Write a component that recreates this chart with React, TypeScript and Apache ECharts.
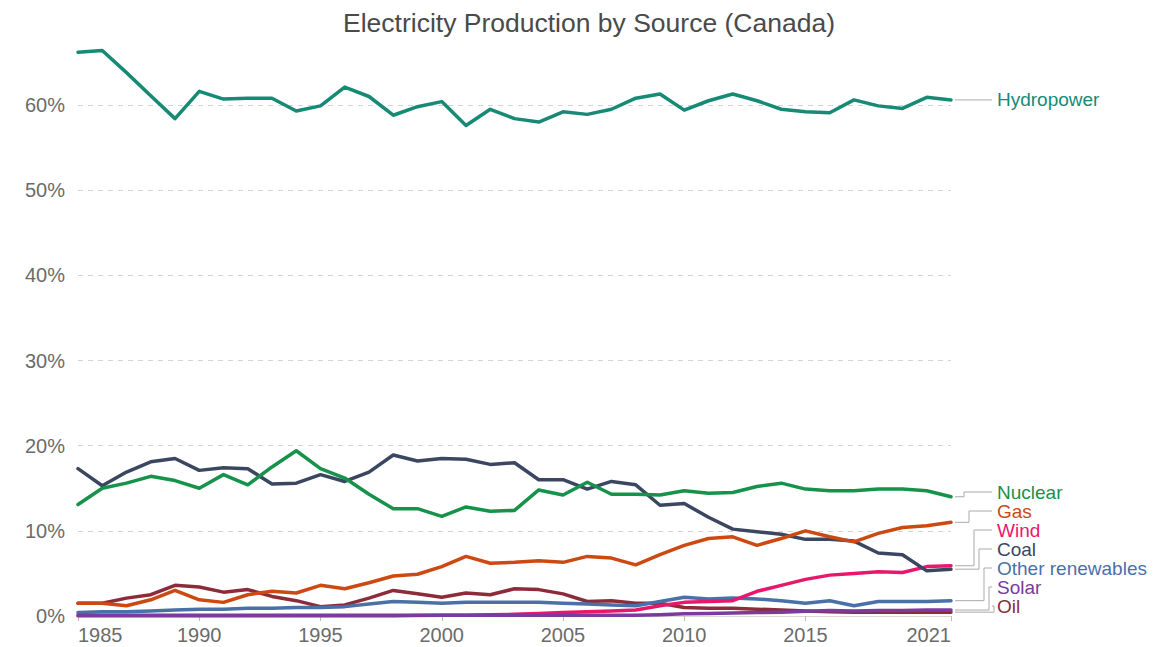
import React, { useEffect, useRef } from "react";
import * as echarts from "echarts";

const years = [
  1985, 1986, 1987, 1988, 1989, 1990, 1991, 1992, 1993, 1994, 1995, 1996, 1997,
  1998, 1999, 2000, 2001, 2002, 2003, 2004, 2005, 2006, 2007, 2008, 2009, 2010,
  2011, 2012, 2013, 2014, 2015, 2016, 2017, 2018, 2019, 2020, 2021,
];

const xTickYears = [1985, 1990, 1995, 2000, 2005, 2010, 2015, 2021];
const yTickValues = [0, 10, 20, 30, 40, 50, 60];

const hydropower = [
  66.2, 66.4, 63.8, 61.1, 58.4, 61.6, 60.7, 60.8, 60.8, 59.3, 59.9, 62.1, 61.0,
  58.8, 59.8, 60.4, 57.6, 59.5, 58.4, 58.0, 59.2, 58.9, 59.5, 60.8, 61.3, 59.4,
  60.5, 61.3, 60.5, 59.5, 59.2, 59.1, 60.6, 59.9, 59.6, 60.9, 60.6,
];
const nuclear = [
  13.1, 15.0, 15.6, 16.4, 15.9, 15.0, 16.6, 15.4, 17.5, 19.4, 17.3, 16.2, 14.3,
  12.6, 12.6, 11.7, 12.8, 12.3, 12.4, 14.8, 14.2, 15.7, 14.3, 14.3, 14.2, 14.7,
  14.4, 14.5, 15.2, 15.6, 14.9, 14.7, 14.7, 14.9, 14.9, 14.7, 14.0,
];
const gas = [
  1.5, 1.5, 1.2, 1.9, 3.0, 1.9, 1.6, 2.5, 2.9, 2.7, 3.6, 3.2, 3.9, 4.7, 4.9, 5.8,
  7.0, 6.2, 6.3, 6.5, 6.3, 7.0, 6.8, 6.0, 7.2, 8.3, 9.1, 9.3, 8.3, 9.1, 10.0, 9.3,
  8.7, 9.7, 10.4, 10.6, 11.0,
];
const wind = [
  0.0, 0.0, 0.0, 0.0, 0.0, 0.0, 0.0, 0.0, 0.0, 0.0, 0.0, 0.0, 0.0, 0.0, 0.05, 0.1,
  0.1, 0.15, 0.2, 0.3, 0.4, 0.5, 0.6, 0.7, 1.2, 1.6, 1.7, 1.8, 2.9, 3.6, 4.3, 4.8,
  5.0, 5.2, 5.1, 5.8, 5.9,
];
const coal = [
  17.3, 15.3, 16.9, 18.1, 18.5, 17.1, 17.4, 17.3, 15.5, 15.6, 16.6, 15.8, 16.9,
  18.9, 18.2, 18.5, 18.4, 17.8, 18.0, 16.0, 16.0, 14.9, 15.8, 15.4, 13.0, 13.2,
  11.6, 10.2, 9.9, 9.6, 9.0, 9.0, 8.8, 7.4, 7.2, 5.3, 5.5,
];
const otherRenewables = [
  0.4, 0.5, 0.5, 0.6, 0.7, 0.8, 0.8, 0.9, 0.9, 1.0, 1.0, 1.1, 1.4, 1.7, 1.6, 1.5,
  1.6, 1.6, 1.6, 1.6, 1.5, 1.4, 1.3, 1.2, 1.7, 2.2, 2.0, 2.1, 2.0, 1.8, 1.5, 1.8,
  1.2, 1.7, 1.7, 1.7, 1.8,
];
const solar = [
  0.1, 0.1, 0.1, 0.1, 0.1, 0.1, 0.1, 0.1, 0.1, 0.1, 0.1, 0.1, 0.1, 0.1, 0.1, 0.1,
  0.1, 0.1, 0.1, 0.1, 0.1, 0.1, 0.1, 0.1, 0.15, 0.25, 0.3, 0.35, 0.4, 0.45, 0.55,
  0.65, 0.6, 0.65, 0.65, 0.7, 0.7,
];
const oil = [
  1.5, 1.5, 2.1, 2.5, 3.6, 3.4, 2.8, 3.1, 2.3, 1.8, 1.1, 1.3, 2.1, 3.0, 2.6, 2.2,
  2.7, 2.5, 3.2, 3.1, 2.6, 1.7, 1.8, 1.5, 1.5, 1.0, 0.9, 0.9, 0.8, 0.7, 0.6, 0.5,
  0.45, 0.45, 0.45, 0.45, 0.45,
];

// drawing order: later entries are drawn on top
const SERIES = [
  { name: "Oil", values: oil, color: "#8c2b3a" },
  { name: "Other renewables", values: otherRenewables, color: "#4a70a8" },
  { name: "Wind", values: wind, color: "#e8176c" },
  { name: "Solar", values: solar, color: "#7a3b9e" },
  { name: "Coal", values: coal, color: "#3b4660" },
  { name: "Nuclear", values: nuclear, color: "#16924a" },
  { name: "Gas", values: gas, color: "#cc4a12" },
  { name: "Hydropower", values: hydropower, color: "#168a75" },
];

const TITLE = "Electricity Production by Source (Canada)";
const FONT = '"Liberation Sans", Arial, Helvetica, sans-serif';

export default function App() {
  const ref = useRef<HTMLDivElement>(null);

  useEffect(() => {
    if (!ref.current) return;
    const chart = echarts.init(ref.current, undefined, { renderer: "svg" });

    const series = SERIES.map((s, i) => ({
      name: s.name,
      type: "line",
      data: years.map((y, k) => [y, s.values[k]]),
      symbol: "none",
      showSymbol: false,
      silent: true,
      z: 2 + i * 0.01,
      lineStyle: { width: 3.5, color: s.color, cap: "round", join: "round" },
      itemStyle: { color: s.color },
    }));

    chart.setOption({
      animation: false,
      textStyle: { fontFamily: FONT },
      grid: { left: 78, right: 202, top: 45.4, bottom: 31, containLabel: false },
      xAxis: {
        type: "value",
        min: 1985,
        max: 2021,
        splitLine: { show: false },
        axisLine: { show: true, lineStyle: { color: "#ddd9cf", width: 1 } },
        axisTick: {
          show: true,
          length: 5,
          customValues: xTickYears,
          lineStyle: { color: "#bbbbbb" },
        },
        axisLabel: {
          customValues: xTickYears,
          formatter: (v: number) => String(v),
          color: "#6b6b6b",
          fontSize: 20,
          fontFamily: FONT,
          margin: 9,
          alignMinLabel: "left",
          alignMaxLabel: "right",
        },
      },
      yAxis: {
        type: "value",
        min: 0,
        max: 67,
        axisLine: { show: false },
        axisTick: { show: false, customValues: yTickValues },
        axisLabel: {
          customValues: yTickValues,
          formatter: (v: number) => v + "%",
          color: "#6b6b6b",
          fontSize: 20,
          fontFamily: FONT,
          margin: 13,
        },
        splitLine: {
          show: true,
          lineStyle: { color: "#d3d3d3", type: [5, 5], width: 1 },
        },
      },
      series,
    });

    // end labels with elbow connectors
    const lastYear = years[years.length - 1];
    const ends = SERIES.map((s) => {
      const v = s.values[s.values.length - 1];
      const p = chart.convertToPixel({ gridIndex: 0 }, [lastYear, v]) as number[];
      return { s, x: p[0], y: p[1], labelY: p[1] };
    });
    const zeroY = (chart.convertToPixel({ gridIndex: 0 }, [lastYear, 0]) as number[])[1];
    ends.sort((a, b) => a.y - b.y);
    const gap = 19;
    const bottomLimit = zeroY - 10;
    for (let i = ends.length - 1; i >= 0; i--) {
      const limit = i === ends.length - 1 ? bottomLimit : ends[i + 1].labelY - gap;
      ends[i].labelY = Math.min(ends[i].y, limit);
    }
    const graphics: any[] = [];
    ends.forEach((e, i) => {
      const x0 = e.x + 4;
      const xe = e.x + 3 + 5 * (i + 1);
      const x1 = e.x + 41;
      const pts =
        Math.abs(e.labelY - e.y) < 0.5
          ? [
              [x0, e.y],
              [x1, e.labelY],
            ]
          : [
              [x0, e.y],
              [xe, e.y],
              [xe, e.labelY],
              [x1, e.labelY],
            ];
      graphics.push({
        type: "polyline",
        silent: true,
        shape: { points: pts },
        style: { stroke: "#aaaaaa", lineWidth: 1, fill: null },
      });
      graphics.push({
        type: "text",
        silent: true,
        x: e.x + 46,
        y: e.labelY,
        style: {
          text: e.s.name,
          fill: e.s.color,
          fontSize: 19,
          fontFamily: FONT,
          align: "left",
          verticalAlign: "middle",
        },
      });
    });
    graphics.push({
      type: "text",
      silent: true,
      x: 589,
      y: 23,
      style: {
        text: TITLE,
        fill: "#4a4a4a",
        fontSize: 26.5,
        fontFamily: FONT,
        align: "center",
        verticalAlign: "middle",
      },
    });
    chart.setOption({ graphic: graphics });

    return () => chart.dispose();
  }, []);

  return (
    <div
      ref={ref}
      style={{ position: "fixed", left: 0, top: 0, width: 1153, height: 647, background: "#fff" }}
    />
  );
}
